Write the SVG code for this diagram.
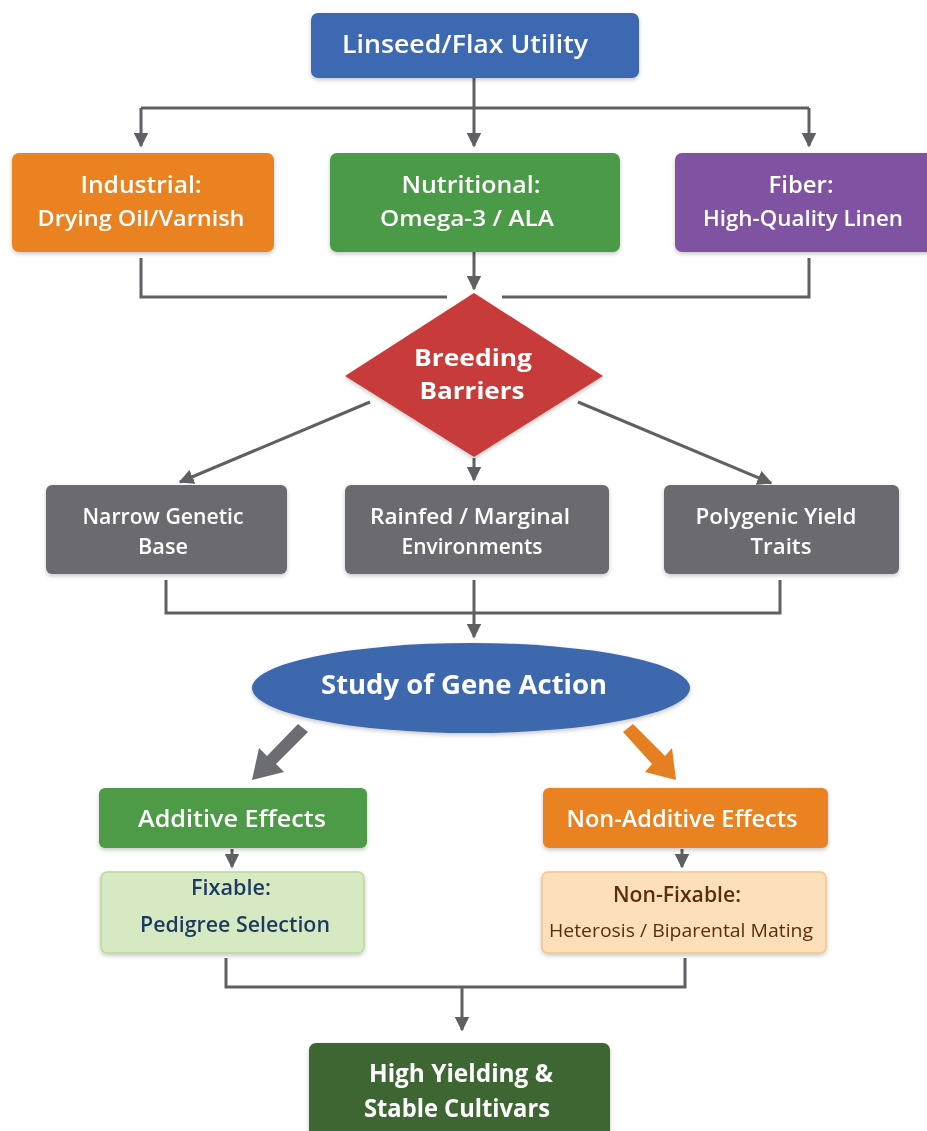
<svg xmlns="http://www.w3.org/2000/svg" width="927" height="1131" viewBox="0 0 927 1131">
<defs>
<marker id="ah" viewBox="0 0 10 10" refX="9" refY="5" markerWidth="5" markerHeight="5" markerUnits="strokeWidth" orient="auto">
<path d="M0,0 L10,5 L0,10 z" fill="#5f6064"/>
</marker>
<filter id="sh" x="-10%" y="-10%" width="120%" height="130%">
<feDropShadow dx="0" dy="2" stdDeviation="2" flood-color="#000" flood-opacity="0.22"/>
</filter>
<style>
.ln{fill:none;stroke:#5f6064;stroke-width:3;}
.t{font-family:"Open Sans","Noto Sans",sans-serif;font-weight:600;text-anchor:middle;fill:#fff;}
.b{font-family:"Open Sans","Noto Sans",sans-serif;font-weight:700;text-anchor:middle;fill:#fff;}
.nd{filter:url(#sh);}
</style>
</defs>
<rect width="927" height="1131" fill="#ffffff"/>

<g id="connectors">
<path class="ln" d="M474,78 V108 M141,108 H809"/>
<path class="ln" d="M141,108 V146" marker-end="url(#ah)"/>
<path class="ln" d="M474,108 V146" marker-end="url(#ah)"/>
<path class="ln" d="M809,108 V146" marker-end="url(#ah)"/>
<path class="ln" d="M141,258 V297 H447"/>
<path class="ln" d="M809,258 V297 H502"/>
<path class="ln" d="M474,252 V289" marker-end="url(#ah)"/>
<path class="ln" d="M370,402 L180,482" marker-end="url(#ah)"/>
<path class="ln" d="M474,458 V480" marker-end="url(#ah)"/>
<path class="ln" d="M578,402 L771,483" marker-end="url(#ah)"/>
<path class="ln" d="M166,580 V613 H780 V580"/>
<path class="ln" d="M474,580 V637" marker-end="url(#ah)"/>
<path d="M298,724 L308,732 L276,764 L284,772 L252,780 L259,748 L267,756 Z" fill="#6c6d72"/>
<path d="M623,732 L633,724 L665,756 L672,748 L676,780 L645,772 L652,764 Z" fill="#e67e22"/>
<path class="ln" d="M232,849 V867" marker-end="url(#ah)"/>
<path class="ln" d="M682,849 V867" marker-end="url(#ah)"/>
<path class="ln" d="M226,958 V987 H685 V958"/>
<path class="ln" d="M462,987 V1030" marker-end="url(#ah)"/>
</g>

<g id="n-utility" class="nd">
<rect x="311" y="13" width="328" height="65" rx="7" fill="#3e68b2"/>
<text class="t" x="465" y="53" font-size="25" textLength="246" lengthAdjust="spacingAndGlyphs">Linseed/Flax Utility</text>
</g>

<g id="n-industrial" class="nd">
<rect x="12" y="153" width="262" height="99" rx="7" fill="#ea8220"/>
<text class="t" x="141" y="193" font-size="23" textLength="121" lengthAdjust="spacingAndGlyphs">Industrial:</text>
<text class="t" x="141" y="226" font-size="22" textLength="207" lengthAdjust="spacingAndGlyphs">Drying Oil/Varnish</text>
</g>

<g id="n-nutritional" class="nd">
<rect x="330" y="153" width="290" height="99" rx="7" fill="#4c9a46"/>
<text class="t" x="471" y="193" font-size="23" textLength="139" lengthAdjust="spacingAndGlyphs">Nutritional:</text>
<text class="t" x="467" y="226" font-size="22" textLength="174" lengthAdjust="spacingAndGlyphs">Omega-3 / ALA</text>
</g>

<g id="n-fiber" class="nd">
<rect x="675" y="153" width="262" height="99" rx="7" fill="#7f52a1"/>
<text class="t" x="801" y="193" font-size="23" textLength="65" lengthAdjust="spacingAndGlyphs">Fiber:</text>
<text class="t" x="803" y="226" font-size="22" textLength="200" lengthAdjust="spacingAndGlyphs">High-Quality Linen</text>
</g>

<g id="n-barriers" class="nd">
<path d="M474,293 L603,376 L474,457 L345,376 Z" fill="#c83a3a" stroke-linejoin="round"/>
<text class="b" x="473" y="366" font-size="23" textLength="118" lengthAdjust="spacingAndGlyphs">Breeding</text>
<text class="b" x="472" y="399" font-size="23" textLength="105" lengthAdjust="spacingAndGlyphs">Barriers</text>
</g>

<g id="n-narrow" class="nd">
<rect x="46" y="485" width="241" height="89" rx="6" fill="#6a6b70"/>
<text class="t" x="163" y="524" font-size="21" textLength="161" lengthAdjust="spacingAndGlyphs">Narrow Genetic</text>
<text class="t" x="163" y="554" font-size="21" textLength="50" lengthAdjust="spacingAndGlyphs">Base</text>
</g>

<g id="n-rainfed" class="nd">
<rect x="345" y="485" width="264" height="89" rx="6" fill="#6a6b70"/>
<text class="t" x="470" y="524" font-size="21" textLength="200" lengthAdjust="spacingAndGlyphs">Rainfed / Marginal</text>
<text class="t" x="472" y="554" font-size="21" textLength="141" lengthAdjust="spacingAndGlyphs">Environments</text>
</g>

<g id="n-polygenic" class="nd">
<rect x="664" y="485" width="235" height="89" rx="6" fill="#6a6b70"/>
<text class="t" x="776" y="524" font-size="21" textLength="161" lengthAdjust="spacingAndGlyphs">Polygenic Yield</text>
<text class="t" x="781" y="554" font-size="21" textLength="61" lengthAdjust="spacingAndGlyphs">Traits</text>
</g>

<g id="n-gene-action" class="nd">
<ellipse cx="471" cy="688" rx="219" ry="45" fill="#3e67ae"/>
<text class="b" x="464" y="694" font-size="26" textLength="286" lengthAdjust="spacingAndGlyphs">Study of Gene Action</text>
</g>

<g id="n-additive" class="nd">
<rect x="99" y="788" width="268" height="60" rx="6" fill="#4d9a47"/>
<text class="t" x="232" y="827" font-size="23" textLength="188" lengthAdjust="spacingAndGlyphs">Additive Effects</text>
</g>

<g id="n-fixable" class="nd">
<rect x="101" y="872" width="263" height="81" rx="6" fill="#d7e9c3" stroke="#bcd89d" stroke-width="1.5"/>
<text class="t" x="231" y="895" font-size="21" style="fill:#1d3a5e" textLength="80" lengthAdjust="spacingAndGlyphs">Fixable:</text>
<text class="t" x="235" y="932" font-size="21" style="fill:#1d3a5e" textLength="190" lengthAdjust="spacingAndGlyphs">Pedigree Selection</text>
</g>

<g id="n-nonadditive" class="nd">
<rect x="543" y="788" width="285" height="60" rx="6" fill="#ea8220"/>
<text class="t" x="682" y="827" font-size="23" textLength="231" lengthAdjust="spacingAndGlyphs">Non-Additive Effects</text>
</g>

<g id="n-nonfixable" class="nd">
<rect x="542" y="872" width="284" height="81" rx="6" fill="#fddfba" stroke="#f2c68f" stroke-width="1.5"/>
<text class="t" x="677" y="902" font-size="21" style="fill:#5a2d10" textLength="128" lengthAdjust="spacingAndGlyphs">Non-Fixable:</text>
<text x="681" y="937" font-family="Open Sans, Noto Sans, sans-serif" font-weight="400" text-anchor="middle" font-size="19" fill="#5a2d10" textLength="264" lengthAdjust="spacingAndGlyphs">Heterosis / Biparental Mating</text>
</g>

<g id="n-cultivars" class="nd">
<rect x="309" y="1043" width="301" height="100" rx="7" fill="#3c6631"/>
<text class="b" x="461" y="1082" font-size="25" textLength="184" lengthAdjust="spacingAndGlyphs">High Yielding &amp;</text>
<text class="b" x="457" y="1117" font-size="25" textLength="186" lengthAdjust="spacingAndGlyphs">Stable Cultivars</text>
</g>
</svg>
